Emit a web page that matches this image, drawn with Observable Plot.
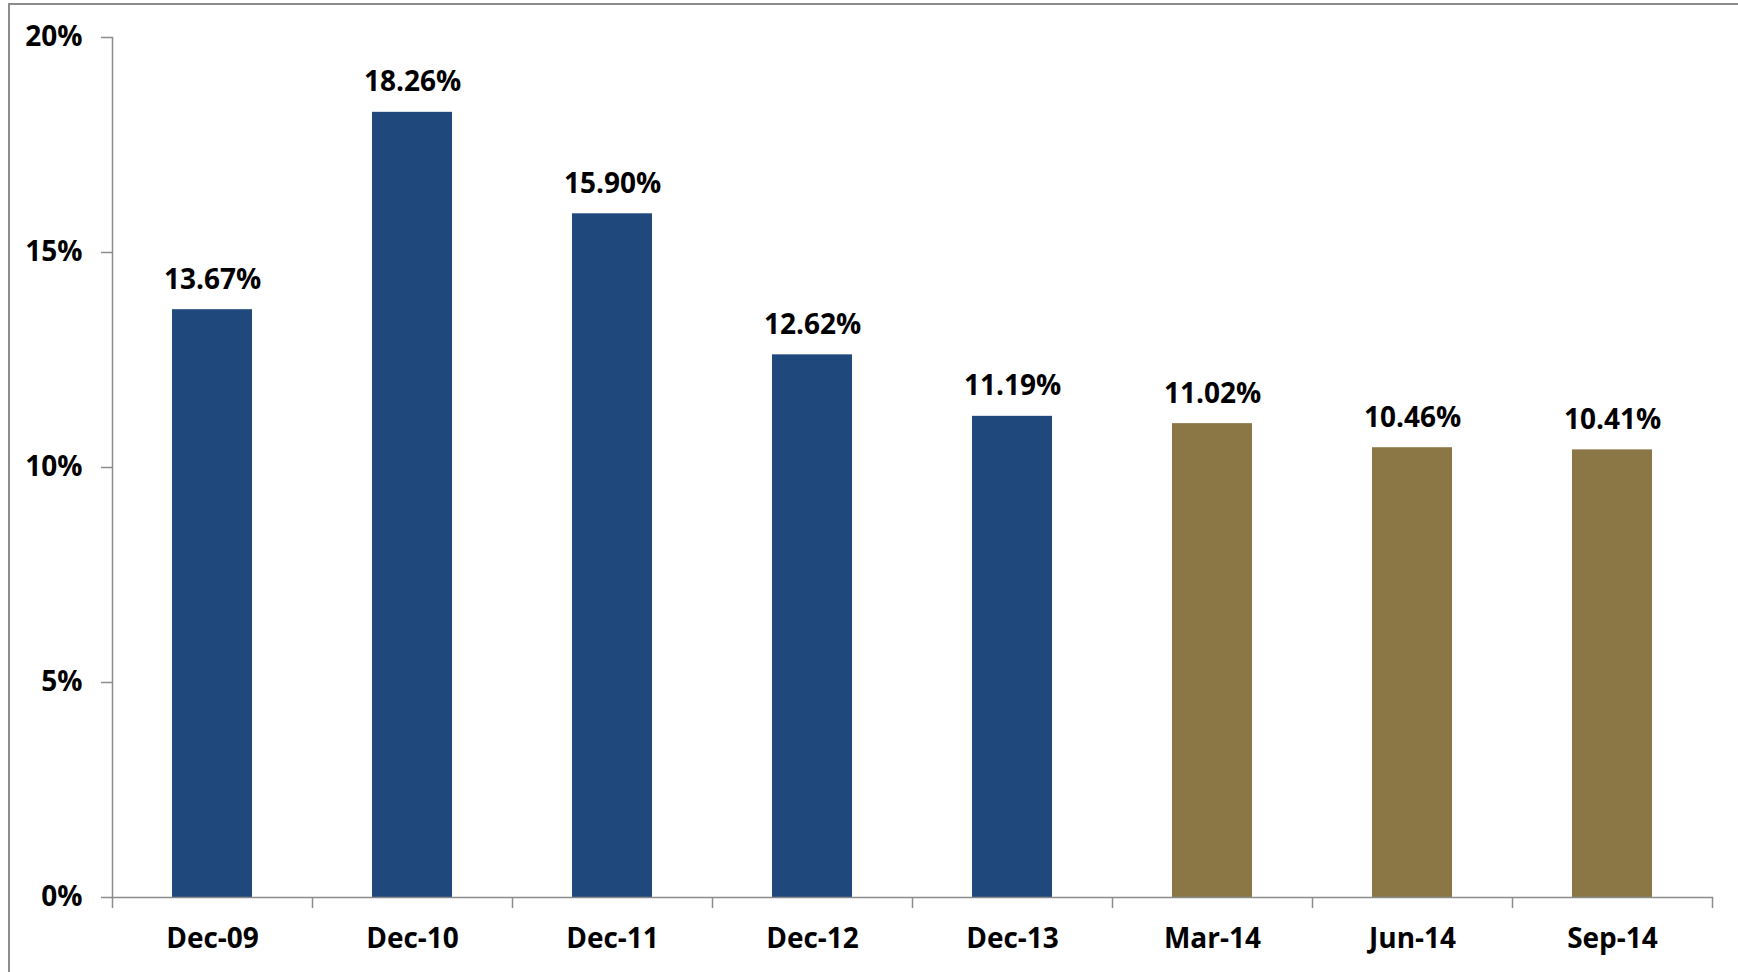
<!DOCTYPE html>
<html>
<head>
<meta charset="utf-8">
<script src="https://cdn.jsdelivr.net/npm/d3@7"></script>
<script src="https://cdn.jsdelivr.net/npm/@observablehq/plot@0.6"></script>
<style>
  html, body { margin: 0; padding: 0; background: #fff; }
  #wrap { position: relative; width: 1738px; height: 972px; overflow: hidden; }
  #border { position: absolute; left: 8px; top: 3px; width: 2000px; height: 2000px;
            border-top: 2px solid #8c8c8c; border-left: 2px solid #8c8c8c; box-sizing: border-box; }
  #chart { position: absolute; left: 0; top: 0; }
</style>
</head>
<body>
<div id="wrap"><div id="border"></div><div id="chart"></div></div>
<script>
const categories = ["Dec-09", "Dec-10", "Dec-11", "Dec-12", "Dec-13", "Mar-14", "Jun-14", "Sep-14"];
const values = [13.67, 18.26, 15.90, 12.62, 11.19, 11.02, 10.46, 10.41];
const periods = ["Year-end", "Year-end", "Year-end", "Year-end", "Year-end", "Quarter", "Quarter", "Quarter"];
const yTicks = [0, 5, 10, 15, 20];

const data = categories.map((c, i) => ({category: c, value: values[i], period: periods[i]}));

const width = 1738, height = 972;
const marginLeft = 112, marginRight = 26, marginTop = 37, marginBottom = 75;
const halfBand = (width - marginLeft - marginRight) / categories.length / 2;
const font = "'Open Sans', 'DejaVu Sans', sans-serif";
const axisColor = "#8c8c8c";
const fs = 28;

const chart = Plot.plot({
  width, height, marginLeft, marginRight, marginTop, marginBottom,
  style: {fontFamily: font, fontWeight: "bold", fontSize: fs + "px", color: "#000", background: "transparent", overflow: "visible"},
  x: {domain: categories, paddingInner: 0.6, paddingOuter: 0.3, label: null},
  y: {domain: [0, 20], label: null},
  color: {domain: ["Year-end", "Quarter"], range: ["#1f497d", "#8b7646"]},
  marks: [
    Plot.barY(data, {x: "category", y: "value", fill: "period"}),
    Plot.frame({anchor: "left", stroke: axisColor, strokeWidth: 1.5, strokeOpacity: 1}),
    Plot.frame({anchor: "bottom", stroke: axisColor, strokeWidth: 1.5, strokeOpacity: 1}),
    Plot.axisY(yTicks, {tickSize: 11, tickPadding: 19, stroke: axisColor, strokeWidth: 1.5, strokeOpacity: 1,
      tickFormat: d => d + "%", fontSize: fs, fontWeight: "bold", fill: "#000"}),
    Plot.axisX({tickSize: 0, tickPadding: 31, fontSize: fs, fontWeight: "bold", fill: "#000"}),
    Plot.ruleX(categories, {x: d => d, y1: 0, y2: 0, insetBottom: -11, dx: -halfBand, stroke: axisColor, strokeWidth: 1.5}),
    Plot.ruleX(categories.slice(-1), {x: d => d, y1: 0, y2: 0, insetBottom: -11, dx: halfBand, stroke: axisColor, strokeWidth: 1.5}),
    Plot.text(data, {x: "category", y: "value", text: d => d.value.toFixed(2) + "%", lineAnchor: "bottom", dy: -21,
      fontSize: fs, fontWeight: "bold", fill: "#000"})
  ]
});
document.getElementById("chart").appendChild(chart);
</script>
</body>
</html>
